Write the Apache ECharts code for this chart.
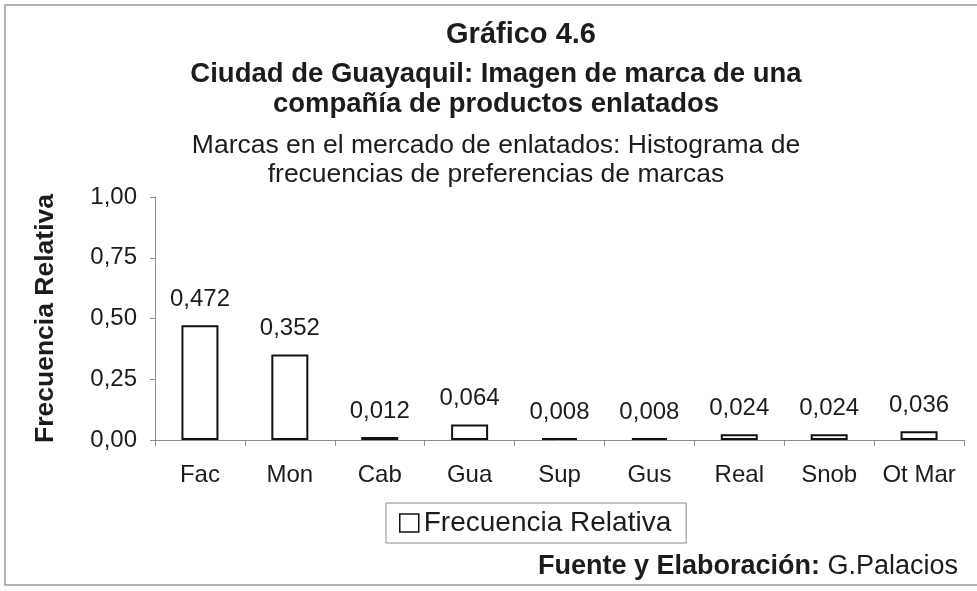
<!DOCTYPE html>
<html>
<head>
<meta charset="utf-8">
<script src="https://cdn.jsdelivr.net/npm/echarts@6/dist/echarts.min.js"></script>
<style>
  html, body { margin: 0; padding: 0; background: #fff; }
  #chart { width: 977px; height: 591px; }
</style>
</head>
<body>
<div id="chart"></div>
<script>
// data
const categories = ['Fac', 'Mon', 'Cab', 'Gua', 'Sup', 'Gus', 'Real', 'Snob', 'Ot Mar'];
const frecuencia = [0.472, 0.352, 0.012, 0.064, 0.008, 0.008, 0.024, 0.024, 0.036];
const seriesName = 'Frecuencia Relativa';
const yMin = 0, yMax = 1, yStep = 0.25;

const FONT = '"Liberation Sans", Arial, sans-serif';
const INK = '#1c1c1c';

// comma as decimal separator
const coma = (v, d) => v.toFixed(d).replace('.', ',');

const chart = echarts.init(document.getElementById('chart'));

const option = {
  backgroundColor: '#fff',
  animation: false,
  title: [
    {
      text: 'Gráfico 4.6',
      left: 521, top: 20, textAlign: 'center', padding: 0,
      textStyle: { fontFamily: FONT, fontSize: 29, fontWeight: 'bold', color: INK, lineHeight: 30 }
    },
    {
      text: 'Ciudad de Guayaquil: Imagen de marca de una\ncompañía de productos enlatados',
      left: 496, top: 59, textAlign: 'center', padding: 0,
      textStyle: { fontFamily: FONT, fontSize: 27.5, fontWeight: 'bold', color: INK, lineHeight: 30 }
    },
    {
      text: 'Marcas en el mercado de enlatados: Histograma de\nfrecuencias de preferencias de marcas',
      left: 496, top: 131, textAlign: 'center', padding: 0,
      textStyle: { fontFamily: FONT, fontSize: 26.5, fontWeight: 'normal', color: INK, lineHeight: 29 }
    }
  ],
  grid: { left: 155, right: 13, top: 197, bottom: 151, containLabel: false },
  legend: {
    data: [seriesName],
    left: 386, top: 503,
    padding: [6, 15, 6, 13],
    borderColor: '#8a8a8a', borderWidth: 1,
    icon: 'rect', itemWidth: 19, itemHeight: 18,
    itemStyle: { color: '#fff', borderColor: '#111', borderWidth: 1.5 },
    textStyle: { fontFamily: FONT, fontSize: 28, color: INK }
  },
  xAxis: {
    type: 'category',
    data: categories,
    axisLine: { lineStyle: { color: '#8c8c8c', width: 1 } },
    axisTick: { show: true, length: 6, lineStyle: { color: '#8c8c8c' } },
    axisLabel: { fontFamily: FONT, fontSize: 24, color: INK, margin: 23, interval: 0 },
    splitLine: { show: false }
  },
  yAxis: {
    type: 'value',
    min: yMin, max: yMax, interval: yStep,
    name: 'Frecuencia Relativa',
    nameLocation: 'middle', nameRotate: 90, nameGap: 96,
    nameTextStyle: { fontFamily: FONT, fontSize: 26.5, fontWeight: 'bold', color: INK },
    axisLine: { show: true, lineStyle: { color: '#8c8c8c', width: 1 } },
    axisTick: { show: true, length: 5, lineStyle: { color: '#8c8c8c' } },
    axisLabel: { fontFamily: FONT, fontSize: 24, color: INK, margin: 18, formatter: v => coma(v, 2) },
    splitLine: { show: false }
  },
  series: [
    {
      name: seriesName,
      type: 'bar',
      data: frecuencia,
      barWidth: 37,
      itemStyle: { color: '#fff', borderColor: '#111', borderWidth: 2 },
      label: {
        show: true, position: 'top', distance: 14,
        fontFamily: FONT, fontSize: 24, color: INK,
        formatter: p => coma(p.value, 3)
      }
    }
  ],
  graphic: [
    {
      type: 'rect', silent: true, z: -1,
      shape: { x: 5, y: 5, width: 990, height: 580 },
      style: { fill: 'none', stroke: '#9a9a9a', lineWidth: 1.5 }
    },
    {
      type: 'text', x: 958, y: 567,
      style: {
        text: '{b|Fuente y Elaboración:} G.Palacios',
        align: 'right', verticalAlign: 'middle',
        font: '27px "Liberation Sans", Arial, sans-serif', fill: INK,
        rich: { b: { fontFamily: FONT, fontSize: 27, fontWeight: 'bold', color: INK } }
      }
    }
  ]
};

chart.setOption(option);
</script>
</body>
</html>
